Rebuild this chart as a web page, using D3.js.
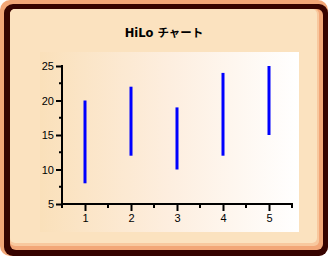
<!DOCTYPE html>
<html>
<head>
<meta charset="utf-8">
<script src="https://cdn.jsdelivr.net/npm/d3@7"></script>
<style>
  body { margin: 0; background: #fff; }
  svg { display: block; }
</style>
</head>
<body>
<div id="chart"></div>
<script>
var categories = [1, 2, 3, 4, 5]
var lows = [8, 12, 10, 12, 15]
var highs = [20, 22, 19, 24, 25]
var yTicks = [5, 10, 15, 20, 25]
var title = "HiLo チャート"

var width = 328,
height = 256

var svg = d3.select("#chart").append("svg")
.attr("width", width)
.attr("height", height)

var defs = svg.append("defs")
var grad = defs.append("linearGradient")
.attr("id", "plotbg")
.attr("x1", "0%").attr("x2", "100%")
.attr("y1", "0%").attr("y2", "0%")
grad.append("stop").attr("offset", "0%").attr("stop-color", "#fae0ba")
grad.append("stop").attr("offset", "50%").attr("stop-color", "#fdeedf")
grad.append("stop").attr("offset", "100%").attr("stop-color", "#ffffff")

// frame: salmon outer, dark bevel, light bevel, cream panel
svg.append("rect")
.attr("x", 0).attr("y", 0)
.attr("width", width).attr("height", height)
.attr("rx", 10)
.attr("fill", "#f2a677")

svg.append("rect")
.attr("x", 4).attr("y", 4)
.attr("width", width - 4).attr("height", height - 4)
.attr("rx", 9)
.attr("fill", "#360300")

svg.append("rect")
.attr("x", 10).attr("y", 9)
.attr("width", 313).attr("height", 241)
.attr("rx", 6)
.attr("fill", "#f2a677")

svg.append("rect")
.attr("x", 10).attr("y", 9)
.attr("width", 309).attr("height", 237)
.attr("rx", 5)
.attr("fill", "#f8c89e")

svg.append("rect")
.attr("x", 10).attr("y", 9)
.attr("width", 307).attr("height", 234)
.attr("rx", 5)
.attr("fill", "#fbe2bf")

// plot area
svg.append("rect")
.attr("x", 40).attr("y", 52)
.attr("width", 259).attr("height", 180)
.attr("fill", "url(#plotbg)")

svg.append("text")
.attr("x", 164)
.attr("y", 37)
.attr("text-anchor", "middle")
.style("font-family", "'DejaVu Sans', 'Noto Sans CJK JP', sans-serif")
.style("font-size", "11.5px")
.style("font-weight", "bold")
.text(title)

var x = d3.scaleLinear()
.domain([0.5, 5.5])
.range([62, 292])

var y = d3.scaleLinear()
.domain([5, 25])
.range([204, 66])

var font = "'Liberation Sans', Arial, sans-serif"

// minor ticks
var xMinor = [0.5, 1.5, 2.5, 3.5, 4.5, 5.5]
var yMinor = [7.5, 12.5, 17.5, 22.5]

svg.selectAll(".xminor")
.data(xMinor)
.enter().append("line")
.attr("class", "xminor")
.attr("x1", function(d){ return x(d) })
.attr("x2", function(d){ return x(d) })
.attr("y1", y(5))
.attr("y2", y(5) + 4)
.attr("stroke", "#000")
.attr("stroke-width", 2)

svg.selectAll(".yminor")
.data(yMinor)
.enter().append("line")
.attr("class", "yminor")
.attr("x1", x(0.5) - 3)
.attr("x2", x(0.5))
.attr("y1", function(d){ return y(d) })
.attr("y2", function(d){ return y(d) })
.attr("stroke", "#000")
.attr("stroke-width", 2)

var xAxis = svg.append("g")
.attr("transform", "translate(0," + y(5) + ")")
.call(d3.axisBottom(x).tickValues(categories).tickSize(7).tickPadding(3).tickFormat(d3.format("d")))

var yAxis = svg.append("g")
.attr("transform", "translate(" + x(0.5) + ",0)")
.call(d3.axisLeft(y).tickValues(yTicks).tickSize(6).tickPadding(2).tickFormat(d3.format("d")))

;[xAxis, yAxis].forEach(function(g){
  g.select(".domain").remove()
  g.selectAll(".tick line").attr("stroke", "#000").attr("stroke-width", 2)
  g.selectAll(".tick text")
  .attr("fill", "#000")
  .style("font-family", font)
  .style("font-size", "11px")
})

svg.append("line")
.attr("x1", x(0.5) - 1).attr("x2", x(5.5) + 1)
.attr("y1", y(5)).attr("y2", y(5))
.attr("stroke", "#000").attr("stroke-width", 2)

svg.append("line")
.attr("x1", x(0.5)).attr("x2", x(0.5))
.attr("y1", y(25) - 1).attr("y2", y(5) + 4)
.attr("stroke", "#000").attr("stroke-width", 2)

// hi-lo bars
svg.selectAll(".hilo")
.data(categories)
.enter().append("line")
.attr("class", "hilo")
.attr("x1", function(d){ return x(d) })
.attr("x2", function(d){ return x(d) })
.attr("y1", function(d, i){ return y(highs[i]) })
.attr("y2", function(d, i){ return y(lows[i]) })
.attr("stroke", "#0000ff")
.attr("stroke-width", 3)
</script>
</body>
</html>
